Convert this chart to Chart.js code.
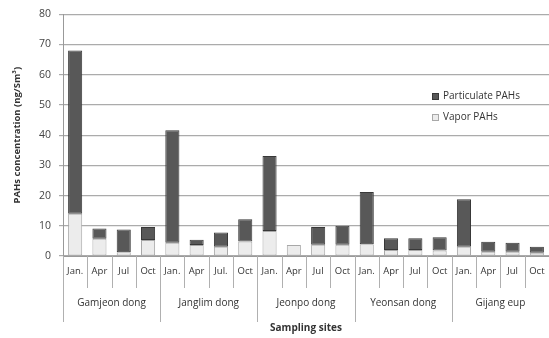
<!DOCTYPE html>
<html>
<head>
<meta charset="utf-8">
<script src="https://cdn.jsdelivr.net/npm/chart.js@4/dist/chart.umd.min.js"></script>
<style>
  html, body { margin: 0; padding: 0; background: #fff; }
  #wrap { width: 549px; height: 338px; }
</style>
</head>
<body>
<div id="wrap"><canvas id="c" width="549" height="338"></canvas></div>
<script>
// Sampling campaign: four months at each of five sites
const months = ["Jan.", "Apr", "Jul", "Oct", "Jan.", "Apr", "Jul.", "Oct", "Jan.", "Apr", "Jul", "Oct",
                "Jan.", "Apr", "Jul", "Oct", "Jan.", "Apr", "Jul", "Oct"];
const sites = ["Gamjeon dong", "Janglim dong", "Jeonpo dong", "Yeonsan dong", "Gijang eup"];

// PAHs concentration (ng/Sm3)
const vaporPAHs =       [14.0, 5.7, 1.2, 5.3,  4.4, 3.6, 3.1, 4.8,  8.3, 3.6, 3.7, 3.7,  3.9, 2.0, 2.0, 1.8,  3.1, 1.4, 1.4, 1.1];
const particulatePAHs = [54.0, 3.4, 7.6, 4.3, 37.2, 1.8, 4.7, 7.4, 24.8, 0.0, 5.9, 6.3, 17.3, 3.9, 3.9, 4.4, 15.7, 3.3, 3.0, 2.0];

const yTicks = [0, 10, 20, 30, 40, 50, 60, 70, 80];

const FONT = "'Open Sans', 'Liberation Sans', sans-serif";

// Two-level category axis, legend and axis titles
const decorations = {
  id: 'decorations',
  afterDraw(chart) {
    const ctx = chart.ctx;
    const x = chart.scales.x;
    const area = chart.chartArea;
    const base = area.bottom;
    const n = months.length;
    const step = (x.getPixelForValue(1) - x.getPixelForValue(0));
    ctx.save();
    ctx.strokeStyle = '#b0b0b0';
    ctx.lineWidth = 1;
    // separators between months (short) and between sites (long)
    for (let i = 0; i <= n; i++) {
      const px = Math.round(x.getPixelForValue(0) - step / 2 + i * step) + 0.5;
      const isGroup = i % 4 === 0;
      ctx.beginPath();
      ctx.moveTo(px, base);
      ctx.lineTo(px, base + (isGroup ? 66 : 32));
      ctx.stroke();
    }
    // month labels
    ctx.fillStyle = '#333';
    ctx.textAlign = 'center';
    ctx.textBaseline = 'middle';
    ctx.font = '9.5px ' + FONT;
    months.forEach((m, i) => ctx.fillText(m, x.getPixelForValue(i), base + 15));
    // site labels
    ctx.font = '10px ' + FONT;
    sites.forEach((s, g) => {
      const cx = (x.getPixelForValue(g * 4) + x.getPixelForValue(g * 4 + 3)) / 2;
      ctx.fillText(s, cx, base + 47);
    });
    // axis titles
    ctx.font = 'bold 10px ' + FONT;
    ctx.fillText('Sampling sites', (area.left + area.right) / 2, 328);
    ctx.save();
    ctx.translate(17, (area.top + area.bottom) / 2);
    ctx.rotate(-Math.PI / 2);
    ctx.font = 'bold 9.5px ' + FONT;
    ctx.fillText('PAHs concentration (ng/Sm\u00B3)', 0, 0);
    ctx.restore();
    // legend
    const ds = chart.data.datasets;
    const items = [ds[1], ds[0]];
    ctx.textAlign = 'left';
    ctx.font = '10px ' + FONT;
    items.forEach((d, k) => {
      const ly = 96 + k * 21;
      ctx.fillStyle = d.backgroundColor;
      ctx.fillRect(432, ly - 3, 7, 7);
      ctx.strokeStyle = d.borderColor;
      ctx.strokeRect(432.5, ly - 2.5, 6, 6);
      ctx.fillStyle = '#333';
      ctx.fillText(d.label, 443, ly + 0.5);
    });
    ctx.restore();
  }
};

new Chart(document.getElementById('c'), {
  type: 'bar',
  data: {
    labels: months,
    datasets: [
      { label: 'Vapor PAHs', data: vaporPAHs, backgroundColor: '#ececec', borderColor: '#a8a8a8',
        borderWidth: 1, borderSkipped: false },
      { label: 'Particulate PAHs', data: particulatePAHs, backgroundColor: '#585858', borderColor: '#383838',
        borderWidth: 1, borderSkipped: false }
    ]
  },
  options: {
    responsive: false,
    animation: false,
    layout: { padding: { top: 10, right: 0, left: 0, bottom: 0 } },
    plugins: { legend: { display: false }, tooltip: { enabled: false } },
    datasets: { bar: { categoryPercentage: 1, barPercentage: 0.58 } },
    scales: {
      x: {
        stacked: true,
        ticks: { display: false },
        grid: { display: false },
        border: { display: true, color: '#999', width: 1 },
        afterFit(s) { s.height = 82; }
      },
      y: {
        stacked: true,
        min: 0, max: 80,
        afterBuildTicks(s) { s.ticks = yTicks.map(v => ({ value: v })); },
        ticks: { color: '#444', font: { family: FONT, size: 10.5 }, padding: 8 },
        grid: { color: '#ababab', lineWidth: 1.2, tickLength: 4 },
        border: { display: true, color: '#999' },
        afterFit(s) { s.width = 63; }
      }
    }
  },
  plugins: [decorations]
});
</script>
</body>
</html>
